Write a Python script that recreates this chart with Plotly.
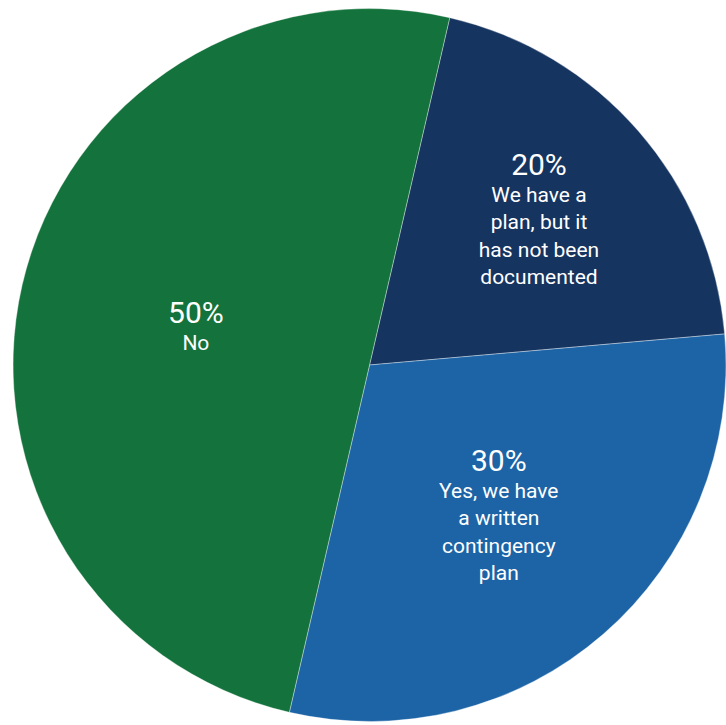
import plotly.graph_objects as go

labels = ["We have a<br>plan, but it<br>has not been<br>documented",
          "Yes, we have<br>a written<br>contingency<br>plan",
          "No"]
values = [20, 30, 50]
colors = ["#163460", "#1C64A6", "#14733C"]

fig = go.Figure(go.Pie(
    labels=labels,
    values=values,
    sort=False,
    direction="clockwise",
    rotation=13,
    marker=dict(colors=colors, line=dict(color="rgba(255,255,255,0.6)", width=0.6)),
    texttemplate="<span style='font-size:30px'>%{percent:.0%}</span><br>%{label}",
    textposition="inside",
    insidetextorientation="horizontal",
    textfont=dict(family="Roboto, sans-serif", size=21, color="white"),
    showlegend=False,
    hoverinfo="label+percent",
    domain=dict(x=[0.018, 1], y=[0.0014, 0.9917]),
))
fig.update_layout(
    margin=dict(l=0, r=0, t=0, b=0),
    paper_bgcolor="white",
    plot_bgcolor="white",
)
post = ("document.body.style.margin='0';"
        "document.documentElement.style.overflow='hidden';"
        "var gd=document.getElementById('{plot_id}');"
        "gd.style.height='725px';gd.style.width='726px';"
        "Plotly.Plots.resize(gd);")
fig.write_html("out.html", post_script=post, config={"displayModeBar": False})
